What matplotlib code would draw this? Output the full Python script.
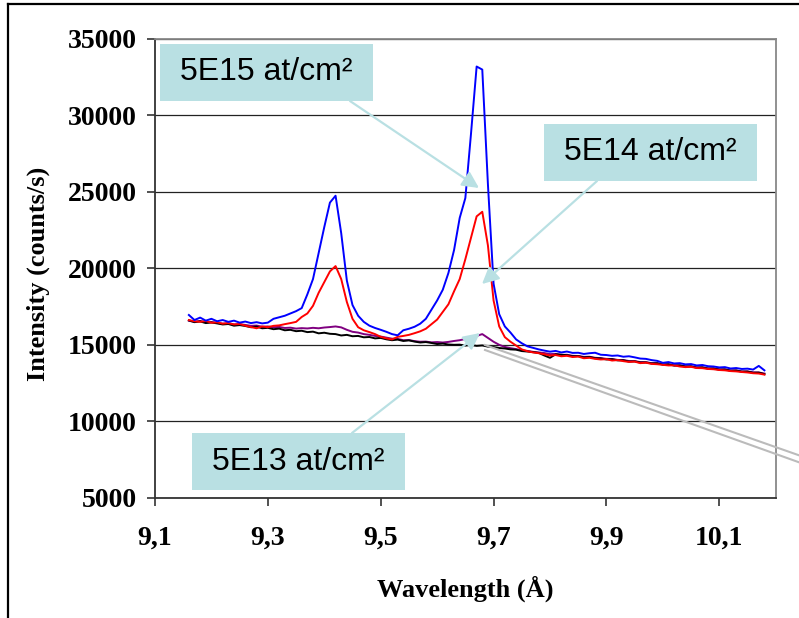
import numpy as np
import matplotlib
matplotlib.use("Agg")
import matplotlib.pyplot as plt
from matplotlib.lines import Line2D
from matplotlib.patches import Rectangle

# wavelength grid (A), 0.01 step
wl = np.round(np.arange(9.16, 10.185, 0.01), 2)

# intensities (counts/s)
i_5e15 = [16950, 16620, 16780, 16580, 16700, 16540, 16620, 16500, 16580, 16450,
          16520, 16420, 16480, 16400, 16450, 16700, 16800, 16900, 17050, 17200,
          17400, 18300, 19300, 21000, 22700, 24300, 24750, 22300, 19200, 17600,
          16900, 16500, 16250, 16100, 15980, 15850, 15700, 15620, 15950, 16050,
          16180, 16380, 16700, 17300, 17900, 18600, 19700, 21200, 23300, 24600,
          28800, 33200, 33000, 25500, 19000, 17000, 16200, 15800, 15350, 15100,
          14900, 14800, 14700, 14620, 14550, 14600, 14500, 14560, 14470, 14480,
          14400, 14450, 14480, 14350, 14330, 14280, 14300, 14220, 14250, 14180,
          14100, 14080, 14000, 13950, 13820, 13870, 13780, 13800, 13720, 13740,
          13650, 13680, 13600, 13580, 13520, 13540, 13450, 13480, 13420, 13440,
          13380, 13620, 13330]
i_5e14 = [16620, 16540, 16500, 16560, 16440, 16470, 16380, 16420, 16330, 16360,
          16250, 16160, 16080, 16200, 16150, 16240, 16270, 16350, 16420, 16500,
          16820, 17050, 17550, 18400, 19100, 19800, 20150, 19300, 17800, 16700,
          16150, 15950, 15830, 15700, 15520, 15420, 15350, 15520, 15580, 15650,
          15760, 15880, 16050, 16350, 16650, 17150, 17650, 18500, 19300, 20600,
          22000, 23400, 23700, 21500, 17900, 16200, 15500, 15200, 14950, 14700,
          14580, 14500, 14450, 14380, 14300, 14330, 14250, 14280, 14200, 14230,
          14120, 14150, 14080, 14040, 14060, 13970, 14000, 13930, 13880, 13900,
          13800, 13830, 13750, 13730, 13690, 13650, 13660, 13580, 13540, 13560,
          13480, 13470, 13420, 13400, 13350, 13330, 13280, 13260, 13220, 13190,
          13140, 13120, 13050]
i_5e13 = [16570, 16500, 16560, 16470, 16490, 16430, 16380, 16410, 16330, 16350,
          16300, 16240, 16260, 16180, 16200, 16150, 16170, 16100, 16120, 16060,
          16090, 16070, 16110, 16080, 16130, 16160, 16200, 16140, 15980, 15850,
          15800, 15700, 15650, 15580, 15540, 15470, 15400, 15390, 15300, 15310,
          15240, 15200, 15210, 15160, 15180, 15150, 15190, 15250, 15300, 15380,
          15460, 15580, 15700, 15450, 15200, 15000, 14860, 14780, 14720, 14640,
          14600, 14540, 14500, 14460, 14390, 14410, 14340, 14350, 14280, 14270,
          14210, 14220, 14150, 14130, 14080, 14070, 14010, 14000, 13940, 13930,
          13870, 13860, 13800, 13800, 13730, 13730, 13660, 13660, 13600, 13590,
          13530, 13530, 13460, 13460, 13400, 13390, 13330, 13320, 13260, 13260,
          13200, 13190, 13120]
i_ref = [16600, 16480, 16530, 16420, 16460, 16400, 16330, 16360, 16250, 16290,
         16230, 16150, 16190, 16080, 16110, 16020, 16060, 15950, 15980, 15890,
         15920, 15830, 15860, 15750, 15790, 15720, 15700, 15610, 15650, 15560,
         15580, 15490, 15510, 15420, 15450, 15360, 15300, 15340, 15250, 15290,
         15210, 15150, 15180, 15120, 15050, 15080, 15020, 15000, 15010, 14950,
         14990, 14930, 14960, 14880, 14850, 14790, 14760, 14700, 14680, 14590,
         14560, 14520, 14470, 14300, 14150, 14380, 14350, 14320, 14250, 14260,
         14170, 14200, 14120, 14110, 14040, 14060, 13980, 13990, 13900, 13920,
         13840, 13850, 13780, 13790, 13700, 13720, 13640, 13650, 13570, 13590,
         13500, 13520, 13440, 13450, 13370, 13390, 13300, 13320, 13240, 13250,
         13170, 13180, 13080]

xticks = [9.1, 9.3, 9.5, 9.7, 9.9, 10.1]
xtick_labels = ["9,1", "9,3", "9,5", "9,7", "9,9", "10,1"]
yticks = [5000, 10000, 15000, 20000, 25000, 30000, 35000]

W, H = 799, 618
fig = plt.figure(figsize=(W / 100, H / 100), dpi=100)

def fx(x):
    return x / W

def fy(y):
    return 1 - y / H

ax = fig.add_axes([fx(155), fy(497.7), fx(775.7) - fx(155), fy(39) - fy(497.7)])

ax.plot(wl, i_5e13, color="#800080", lw=1.4)
ax.plot(wl, i_ref, color="black", lw=1.4)
ax.plot(wl, i_5e14, color="#FF0000", lw=1.4)
ax.plot(wl, i_5e15, color="#0000FF", lw=1.4)

ax.set_xlim(9.1, 10.2)
ax.set_ylim(5000, 35000)
ax.set_xticks(xticks)
ax.set_xticklabels(xtick_labels)
ax.set_yticks(yticks)
ax.set_yticklabels([str(v) for v in yticks])
for lab in ax.get_xticklabels() + ax.get_yticklabels():
    lab.set_family("Liberation Serif")
    lab.set_fontweight("bold")
    lab.set_fontsize(20)
ax.tick_params(axis="x", direction="out", length=6, width=1.2, pad=14, colors="#333333")
ax.tick_params(axis="y", direction="out", length=6, width=1.2, pad=7, colors="#333333")
ax.tick_params(labelcolor="black")
ax.yaxis.grid(True, color="#222222", lw=0.9)
ax.set_axisbelow(True)
for s in ["left", "bottom"]:
    ax.spines[s].set_color("#333333")
    ax.spines[s].set_linewidth(1.3)
for s in ["top", "right"]:
    ax.spines[s].set_color("#888888")
    ax.spines[s].set_linewidth(1.3)

fig.text(fx(38), fy(274), "Intensity (counts/s)", rotation=90, ha="center", va="center",
         family="Liberation Serif", fontweight="bold", fontsize=19)
fig.text(fx(465), fy(589), "Wavelength (\u00c5)", ha="center", va="center",
         family="Liberation Serif", fontweight="bold", fontsize=19)

# outer frame (partly off the picture)
fig.add_artist(Line2D([fx(8), fx(8)], [fy(4), fy(620)], color="black", lw=1.6))
fig.add_artist(Line2D([fx(8), fx(801)], [fy(4), fy(4)], color="black", lw=1.6))

# grey leader lines running off to the right
fig.add_artist(Line2D([fx(485), fx(801)], [fy(345), fy(456)], color="#BBBBBB", lw=1.5))
fig.add_artist(Line2D([fx(485), fx(801)], [fy(350), fy(463)], color="#BBBBBB", lw=1.5))

cyan = "#B9E0E3"
labels = [("5E15 at/cm\u00b2", (160, 44), (350, 101), (479, 188)),
          ("5E14 at/cm\u00b2", (544, 124), (597, 181), (482, 284)),
          ("5E13 at/cm\u00b2", (192, 433), (352, 433), (480, 333))]
for txt, (bx, by), (sx, sy), (tx, ty) in labels:
    fig.add_artist(Rectangle((fx(bx), fy(by + 57)), 213 / W, 57 / H,
                             transform=fig.transFigure, facecolor=cyan, edgecolor="none"))
    fig.text(fx(bx + 106.5), fy(by + 28.5), txt, ha="center", va="center",
             family="Liberation Sans", fontsize=23, color="black")
    ax.annotate("", xy=(tx, H - ty), xycoords="figure pixels",
                xytext=(sx, H - sy), textcoords="figure pixels",
                arrowprops=dict(arrowstyle="-|>", color=cyan, lw=1.6,
                                mutation_scale=25, shrinkA=0, shrinkB=0))

fig.savefig("out.png", dpi=100)
